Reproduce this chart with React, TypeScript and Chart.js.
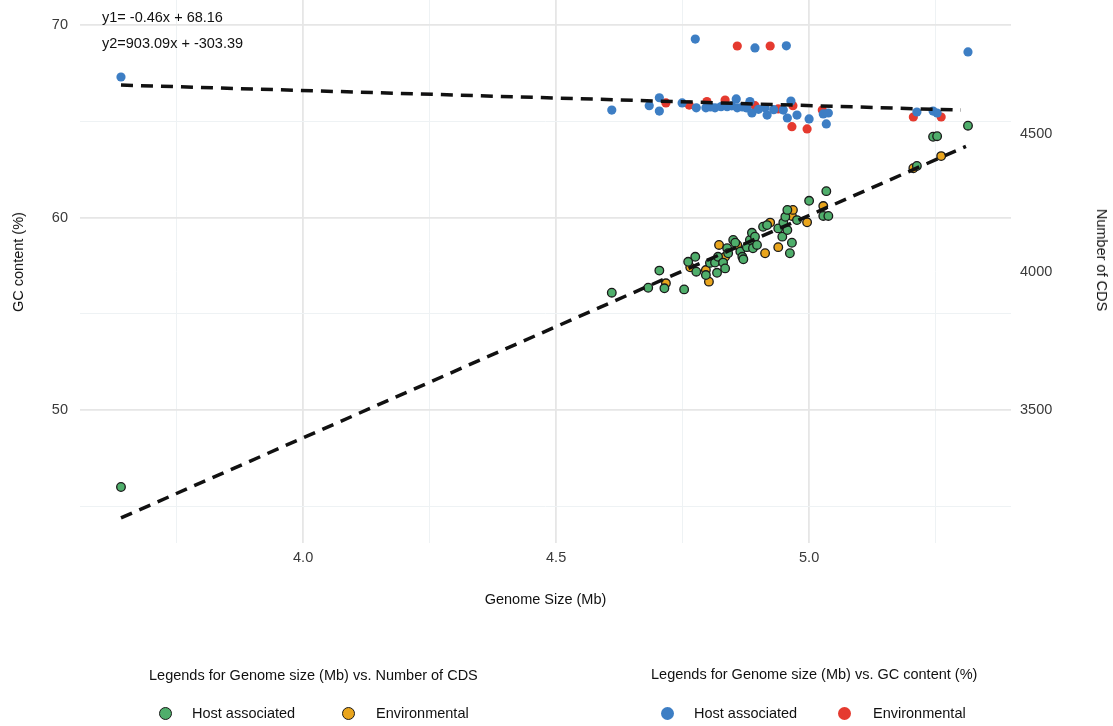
import React, { useEffect, useRef } from "react";
import { Chart, registerables } from "chart.js";

Chart.register(...registerables);

const FONT = '"Liberation Sans", Arial, Helvetica, sans-serif';

// Axis ticks
const xTicks = [3.75, 4.0, 4.25, 4.5, 4.75, 5.0, 5.25];
const gcTicks = [45, 50, 55, 60, 65, 70];
const cdsTicks = [3500, 4000, 4500];

// Genome size (Mb) vs GC content (%) — host associated
const gcHost: [number, number][] = [
  [3.64, 67.3], [4.61, 65.58], [4.684, 65.81], [4.704, 66.22], [4.704, 65.53],
  [4.749, 65.95], [4.775, 69.27], [4.777, 65.7], [4.796, 65.7], [4.805, 65.74],
  [4.814, 65.7], [4.826, 65.76], [4.838, 65.76], [4.847, 65.8], [4.856, 66.16],
  [4.858, 65.7], [4.868, 65.74], [4.877, 65.69], [4.883, 66.02], [4.887, 65.43],
  [4.893, 68.81], [4.9, 65.62], [4.913, 65.7], [4.917, 65.32], [4.93, 65.6],
  [4.949, 65.58], [4.955, 68.92], [4.957, 65.17], [4.964, 66.05], [4.976, 65.32],
  [5.0, 65.12], [5.028, 65.38], [5.034, 64.86], [5.038, 65.43], [5.213, 65.48],
  [5.245, 65.53], [5.253, 65.43], [5.314, 68.6],
];

// Genome size (Mb) vs GC content (%) — environmental
const gcEnv: [number, number][] = [
  [4.717, 65.95], [4.763, 65.84], [4.798, 66.02], [4.834, 66.1], [4.858, 68.91],
  [4.893, 65.81], [4.923, 68.91], [4.939, 65.64], [4.966, 64.72], [4.968, 65.81],
  [4.996, 64.6], [5.026, 65.58], [5.206, 65.22], [5.261, 65.22],
];

// Genome size (Mb) vs Number of CDS — host associated
const cdsHost: [number, number][] = [
  [3.64, 3221], [4.61, 3925], [4.682, 3943], [4.704, 4005], [4.714, 3941],
  [4.753, 3937], [4.761, 4037], [4.775, 4055], [4.777, 4001], [4.796, 3989],
  [4.804, 4033], [4.814, 4034], [4.818, 3997], [4.82, 4055], [4.83, 4034],
  [4.834, 4013], [4.838, 4086], [4.84, 4068], [4.85, 4116], [4.854, 4106],
  [4.864, 4074], [4.868, 4055], [4.87, 4046], [4.877, 4090], [4.883, 4116],
  [4.887, 4142], [4.889, 4086], [4.893, 4128], [4.897, 4098], [4.909, 4164],
  [4.917, 4170], [4.939, 4158], [4.947, 4128], [4.949, 4179], [4.953, 4200],
  [4.957, 4152], [4.957, 4225], [4.962, 4068], [4.966, 4106], [4.976, 4188],
  [5.0, 4258], [5.028, 4203], [5.034, 4293], [5.038, 4203], [5.213, 4384],
  [5.245, 4490], [5.253, 4492], [5.314, 4530],
];

// Genome size (Mb) vs Number of CDS — environmental
const cdsEnv: [number, number][] = [
  [4.717, 3959], [4.765, 4017], [4.796, 4007], [4.802, 3965], [4.822, 4098],
  [4.834, 4055], [4.858, 4098], [4.913, 4068], [4.923, 4179], [4.939, 4090],
  [4.966, 4203], [4.968, 4225], [4.996, 4180], [5.028, 4239], [5.206, 4376],
  [5.261, 4420],
];

// Fitted lines (end points)
const gcFitX = [3.64, 5.3];
const gcFitY = [66.88, 65.58];
const cdsFitX = [3.64, 5.31];
const cdsFitY = [3109, 4455];

const eqLabels = ["y1= -0.46x + 68.16", "y2=903.09x + -303.39"];

const COLORS = {
  green: "#4fae6b",
  orange: "#e9a51d",
  blue: "#3d7ec4",
  red: "#e53a2f",
};

const toPts = (arr: [number, number][]) => arr.map(([x, y]) => ({ x, y }));
const fitPts = (xs: number[], ys: number[]) => xs.map((x, i) => ({ x, y: ys[i] }));
const isMajorX = (v: number) => Math.abs(v * 2 - Math.round(v * 2)) < 1e-6;
const isMajorY = (v: number) => Math.abs(v / 10 - Math.round(v / 10)) < 1e-6;

const noPad = (s: any) => {
  s.paddingTop = 0;
  s.paddingBottom = 0;
  s.paddingLeft = 0;
  s.paddingRight = 0;
};

export default function App() {
  const ref = useRef<HTMLCanvasElement | null>(null);

  useEffect(() => {
    if (!ref.current) return;
    const tickFont = { family: FONT, size: 14.5 };
    const titleFont = { family: FONT, size: 14.5 };
    const chart = new Chart(ref.current, {
      type: "scatter",
      data: {
        datasets: [
          {
            label: "fit GC",
            data: fitPts(gcFitX, gcFitY),
            yAxisID: "y",
            showLine: true,
            borderColor: "#111111",
            borderWidth: 3.5,
            borderDash: [12, 8],
            pointRadius: 0,
            order: 0,
          },
          {
            label: "fit CDS",
            data: fitPts(cdsFitX, cdsFitY),
            yAxisID: "y2",
            showLine: true,
            borderColor: "#111111",
            borderWidth: 3.5,
            borderDash: [12, 8],
            pointRadius: 0,
            order: 0,
          },
          {
            label: "GC Host associated",
            data: toPts(gcHost),
            yAxisID: "y",
            backgroundColor: COLORS.blue,
            borderWidth: 0,
            pointRadius: 4.6,
            order: 1,
          },
          {
            label: "GC Environmental",
            data: toPts(gcEnv),
            yAxisID: "y",
            backgroundColor: COLORS.red,
            borderWidth: 0,
            pointRadius: 4.6,
            order: 2,
          },
          {
            label: "CDS Host associated",
            data: toPts(cdsHost),
            yAxisID: "y2",
            backgroundColor: COLORS.green,
            borderColor: "#1a1a1a",
            borderWidth: 1.3,
            pointRadius: 4.3,
            order: 3,
          },
          {
            label: "CDS Environmental",
            data: toPts(cdsEnv),
            yAxisID: "y2",
            backgroundColor: COLORS.orange,
            borderColor: "#1a1a1a",
            borderWidth: 1.3,
            pointRadius: 4.3,
            order: 4,
          },
        ],
      },
      options: {
        animation: false,
        responsive: false,
        devicePixelRatio: 1,
        layout: { padding: 0, autoPadding: false },
        plugins: {
          legend: { display: false },
          tooltip: { enabled: false },
        },
        scales: {
          x: {
            type: "linear",
            min: 3.559,
            max: 5.399,
            afterBuildTicks: (s: any) => {
              s.ticks = xTicks.map((v) => ({ value: v }));
            },
            afterFit: (s: any) => {
              s.height = 183;
              noPad(s);
            },
            border: { display: false },
            grid: {
              drawTicks: false,
              color: (c: any) => (isMajorX(c.tick?.value ?? 0) ? "#e6e6e6" : "#eef2f4"),
              lineWidth: (c: any) => (isMajorX(c.tick?.value ?? 0) ? 1.8 : 1),
            },
            ticks: {
              padding: 6,
              color: "#3a3a3a",
              font: tickFont,
              maxRotation: 0,
              autoSkip: false,
              callback: (v: any) => (isMajorX(Number(v)) ? Number(v).toFixed(1) : ""),
            },
            title: {
              display: true,
              text: "Genome Size (Mb)",
              color: "#111111",
              font: titleFont,
              padding: { top: 0, bottom: 117.3 },
            },
          },
          y: {
            type: "linear",
            position: "left",
            min: 43.091,
            max: 71.299,
            afterBuildTicks: (s: any) => {
              s.ticks = gcTicks.map((v) => ({ value: v }));
            },
            afterFit: (s: any) => {
              s.width = 80;
              noPad(s);
            },
            border: { display: false },
            grid: {
              drawTicks: false,
              color: (c: any) => (isMajorY(c.tick?.value ?? 0) ? "#e6e6e6" : "#eef2f4"),
              lineWidth: (c: any) => (isMajorY(c.tick?.value ?? 0) ? 1.8 : 1),
            },
            ticks: {
              padding: 12,
              color: "#3a3a3a",
              font: tickFont,
              autoSkip: false,
              callback: (v: any) => (isMajorY(Number(v)) ? String(v) : ""),
            },
            title: { display: false },
          },
          y2: {
            type: "linear",
            position: "right",
            min: 3018.1,
            max: 4985.5,
            afterBuildTicks: (s: any) => {
              s.ticks = cdsTicks.map((v) => ({ value: v }));
            },
            afterFit: (s: any) => {
              s.width = 102;
              noPad(s);
            },
            border: { display: false },
            grid: { display: false, drawTicks: false },
            ticks: {
              padding: 9,
              color: "#3a3a3a",
              font: tickFont,
              autoSkip: false,
              callback: (v: any) => String(v),
            },
            title: { display: false },
          },
        },
      },
    });
    return () => chart.destroy();
  }, []);

  const text = (content: string, left: number, cy: number, color = "#111111") => (
    <div
      style={{
        position: "absolute",
        left,
        top: cy - 10,
        height: 20,
        lineHeight: "20px",
        fontSize: 14.5,
        fontFamily: FONT,
        color,
        whiteSpace: "nowrap",
      }}
    >
      {content}
    </div>
  );

  const vtext = (content: string, cx: number, cy: number, deg: number) => (
    <div
      style={{
        position: "absolute",
        left: cx,
        top: cy,
        lineHeight: "18px",
        fontSize: 14.5,
        fontFamily: FONT,
        color: "#111111",
        whiteSpace: "nowrap",
        transform: `translate(-50%, -50%) rotate(${deg}deg)`,
      }}
    >
      {content}
    </div>
  );

  const dot = (cx: number, cy: number, color: string, outlined: boolean) => (
    <div
      style={{
        position: "absolute",
        left: cx - 6.5,
        top: cy - 6.5,
        width: 13,
        height: 13,
        boxSizing: "border-box",
        borderRadius: "50%",
        background: color,
        border: outlined ? "1.4px solid #1a1a1a" : "none",
      }}
    />
  );

  return (
    <div
      style={{
        position: "fixed",
        left: 0,
        top: 0,
        width: 1113,
        height: 726,
        background: "#ffffff",
        overflow: "hidden",
      }}
    >
      <canvas ref={ref} width={1113} height={726} style={{ position: "absolute", left: 0, top: 0 }} />
      {text(eqLabels[0], 102, 17)}
      {text(eqLabels[1], 102, 43)}

      {vtext("GC content (%)", 18, 262, -90)}
      {vtext("Number of CDS", 1102, 260, 90)}

      {text("Legends for Genome size (Mb) vs. Number of CDS", 149, 675)}
      {dot(165, 713, COLORS.green, true)}
      {text("Host associated", 192, 713)}
      {dot(348, 713, COLORS.orange, true)}
      {text("Environmental", 376, 713)}

      {text("Legends for Genome size (Mb) vs. GC content (%)", 651, 674)}
      {dot(667, 713, COLORS.blue, false)}
      {text("Host associated", 694, 713)}
      {dot(844, 713, COLORS.red, false)}
      {text("Environmental", 873, 713)}
    </div>
  );
}
